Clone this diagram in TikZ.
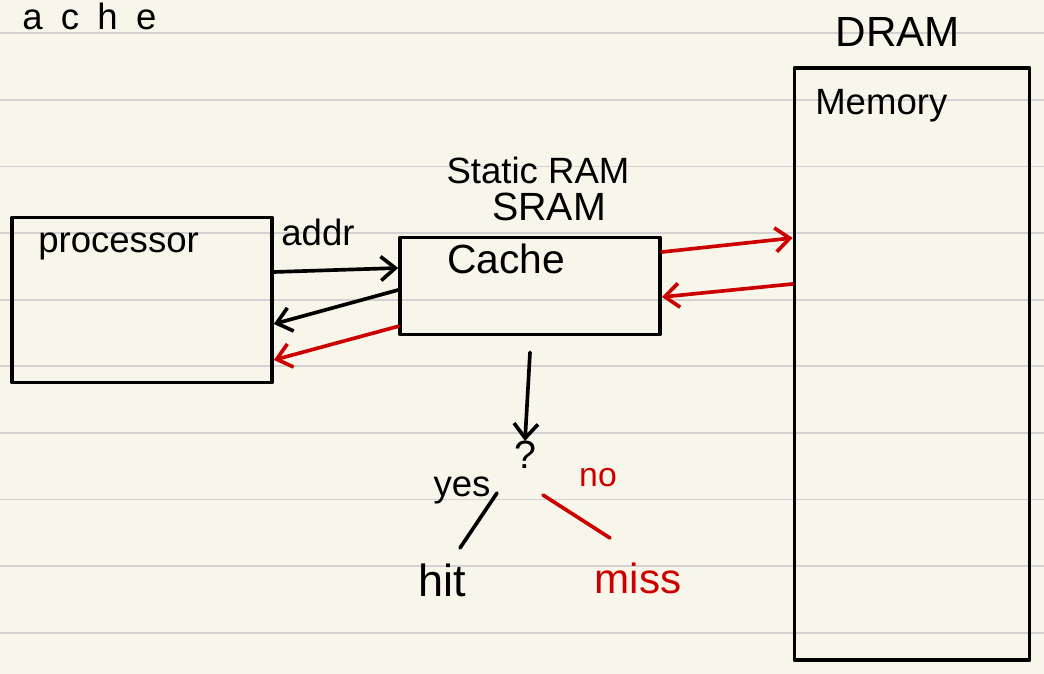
\documentclass[tikz,border=0pt]{standalone}
\usepackage{fontspec}
\setmainfont{Liberation Sans}
\usetikzlibrary{arrows.meta}
\definecolor{paper}{HTML}{F8F6EA}
\definecolor{rule}{HTML}{D2D2D2}
\definecolor{pen}{HTML}{CC0000}
\tikzset{
  ink/.style={line width=2.6pt, line cap=round, line join=round},
  box/.style={ink, draw, rectangle, inner sep=0pt},
  hand/.style={font=\fontsize{#1}{#1}\selectfont, inner sep=0pt},
  hand/.default=26,
  tip/.style={-{Straight Barb[length=3.6mm, width=6mm]}}
}
\begin{document}
\begin{tikzpicture}[x=0.025cm, y=-0.025cm]
  \fill [paper] (0,0) rectangle (1044,674);
  \useasboundingbox (0,0) rectangle (1044,674);
  \foreach \i in {0,...,9}
    \draw [rule, line width=1.2pt] (0,33.3+66.6*\i) -- (1044,33.3+66.6*\i);

  \node [hand=26, anchor=north west] (title) at (22,3) {\addfontfeature{LetterSpace=50}ache};

  % boxes
  \node [box, minimum width=6.5cm, minimum height=4.125cm] (proc) at (142,300) {};
  \node [box, minimum width=6.5cm, minimum height=2.425cm] (cache) at (530,286) {};
  \node [box, minimum width=5.875cm, minimum height=14.8cm] (mem) at (912,364) {};

  \node [hand, anchor=west] (proclbl) at (38,246) {processor};
  \node [hand=29, anchor=west] (cachelbl) at (447,259) {Cache};
  \node [hand, anchor=west] (memlbl) at (815,106) {Memory};
  \node [hand=30] (dram) at (898,32) {DRAM};
  \node [hand] (static) at (538,170) {Static RAM};
  \node [hand=28] (sram) at (549,207) {SRAM};
  \node [hand] (addr) at (318,232) {addr};

  % processor <-> cache
  \draw [ink, tip] ([yshift=0.7cm]proc.east) -- ([yshift=0.45cm]cache.west);
  \draw [ink, tip] ([yshift=-0.1cm]cache.west) -- ([yshift=-0.6cm]proc.east);
  \draw [ink, tip, pen] ([yshift=0.25cm]cache.south west) -- ([yshift=-1.5cm]proc.east);

  % cache <-> memory
  \draw [ink, tip, pen] ([yshift=0.85cm]cache.east) -- ([yshift=3.15cm]mem.west);
  \draw [ink, tip, pen] ([yshift=2cm]mem.west) -- ([yshift=-0.275cm]cache.east);

  % hit or miss
  \node [hand=28] (q) at (525,455) {?};
  \node [hand=32] (hit) at (442,580) {hit};
  \node [hand=30, pen] (miss) at (638,578) {miss};
  \node [hand] (yes) at (462,490) {yes};
  \node [hand=24, pen] (no) at (598,478) {no};

  \draw [ink, tip] ([yshift=-0.4cm]cache.south) -- (q.north);
  \draw [ink] ([xshift=-0.7cm,yshift=-0.95cm]q.center) -- ([xshift=0.45cm,yshift=0.8cm]hit.center);
  \draw [ink, pen] ([xshift=0.45cm,yshift=-1cm]q.center) -- ([xshift=-0.7cm,yshift=1.0cm]miss.center);
\end{tikzpicture}
\end{document}
